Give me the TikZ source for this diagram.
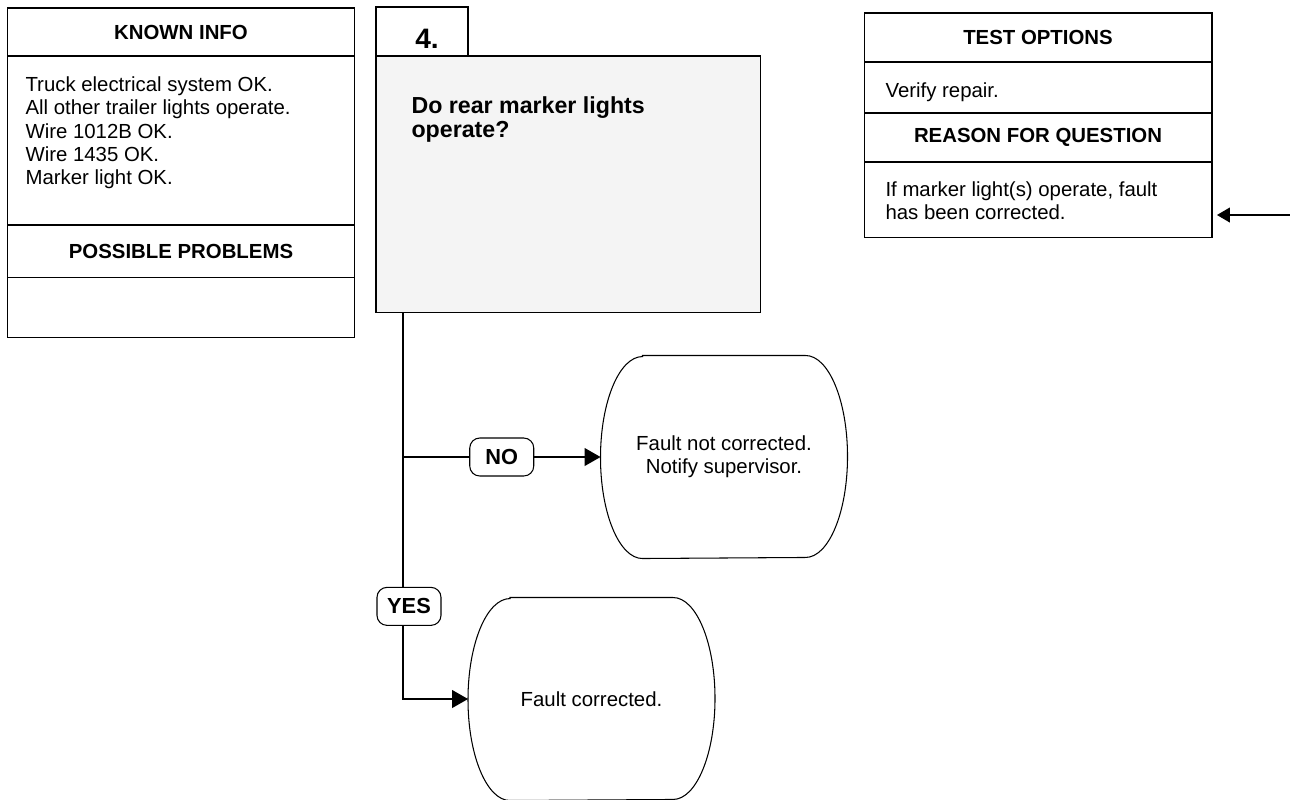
\documentclass[tikz,border=0pt]{standalone}
\usepackage{fontspec}
\setmainfont{Liberation Sans}
\usepackage{tikz}
\usetikzlibrary{arrows.meta, positioning}
\definecolor{questgray}{HTML}{F4F4F4}
\newcommand{\bodysize}{\fontsize{11.6}{13.3}\selectfont}
\newcommand{\termoutline}[1]{%
  \draw ([xshift=0.84cm]#1.north west) -- ([xshift=-0.84cm]#1.north east)
    arc[start angle=90, end angle=-90, x radius=0.84cm, y radius=2.02cm]
    -- ([xshift=0.84cm]#1.south west)
    arc[start angle=270, end angle=90, x radius=0.84cm, y radius=2.02cm] -- cycle;}
\tikzset{
  infohead/.style={rectangle, draw=black, minimum width=6.96cm, outer sep=0pt, inner sep=0pt, font=\bodysize\bfseries},
  infobody/.style={rectangle, draw=black, minimum width=6.96cm, outer sep=0pt, inner sep=0pt},
  infotext/.style={anchor=north west, inner sep=0pt, align=left, font=\bodysize},
  tabbox/.style={rectangle, draw=black, minimum width=1.84cm, minimum height=0.98cm, outer sep=0pt},
  questbox/.style={rectangle, draw=black, fill=questgray, minimum width=7.7cm, minimum height=5.14cm, outer sep=0pt},
  termbox/.style={minimum width=4.92cm, minimum height=4.04cm, inner sep=0pt, align=center, font=\bodysize},
  anslabel/.style={rectangle, rounded corners=0.2cm, draw=black, fill=white, minimum width=1.28cm, minimum height=0.76cm, inner sep=0pt, font=\fontsize{12.4}{14}\selectfont\bfseries},
  flowarr/.style={-{Triangle[length=3.2mm, width=3.6mm]}},
  backarr/.style={-{Triangle[length=2.6mm, width=3mm]}},
}
\begin{document}
\begin{tikzpicture}[x=0.02cm, y=-0.02cm, line width=0.6pt]
\useasboundingbox (0,0) rectangle (1290,799);

% known info / possible problems
\node[infohead, minimum height=0.96cm] (known) at (181,32) {KNOWN INFO};
\node[infobody, minimum height=3.38cm, below=0pt of known] (knownbody) {};
\node[infohead, minimum height=1.06cm, below=0pt of knownbody] (probs) {POSSIBLE PROBLEMS};
\node[infobody, minimum height=1.2cm, below=0pt of probs] (probsbody) {};
\node[infotext] (knowntext) at (25,76) {Truck electrical system OK.\\All other trailer lights operate.\\Wire 1012B OK.\\Wire 1435 OK.\\Marker light OK.};

% question
\node[tabbox] (tab) at (422,31.5) {};
\node[anchor=base, inner sep=0pt, font=\fontsize{16}{18}\selectfont\bfseries] (stepno) at (427,48) {4.};
\node[questbox, anchor=north west] (quest) at (376,56) {};
\node[infotext, font=\fontsize{13.2}{13.8}\selectfont\bfseries] (questtext) at (411,96) {Do rear marker lights\\operate?};

% test options / reason for question
\node[infohead, minimum height=0.98cm] (tests) at (1038,37.5) {TEST OPTIONS};
\node[infobody, minimum height=1.02cm, below=0pt of tests] (testsbody) {};
\node[infohead, minimum height=0.98cm, below=0pt of testsbody] (reason) {REASON FOR QUESTION};
\node[infobody, minimum height=1.52cm, below=0pt of reason] (reasonbody) {};
\node[infotext, anchor=base west] (teststext) at (885,97) {Verify repair.};
\node[infotext] (reasontext) at (885,181) {If marker light(s) operate, fault\\has been corrected.};

% outcomes
\node[termbox] (nofix) at (724,457) {Fault not corrected.\\Notify supervisor.};
\node[termbox] (fixed) at (591.5,699) {Fault corrected.};
\termoutline{nofix}
\termoutline{fixed}

\coordinate (trunk) at ([xshift=0.54cm]quest.south west);
\draw[flowarr] (trunk) |- node[anslabel, pos=0.38, xshift=0.12cm] (yes) {YES} (fixed.west);
\draw[flowarr] (trunk |- nofix.west) -- node[anslabel] (no) {NO} (nofix.west);
\coordinate (fromright) at (1290,215);
\draw[backarr, shorten >=0.1cm] (fromright) -- (reasonbody.east |- fromright);
\end{tikzpicture}
\end{document}
